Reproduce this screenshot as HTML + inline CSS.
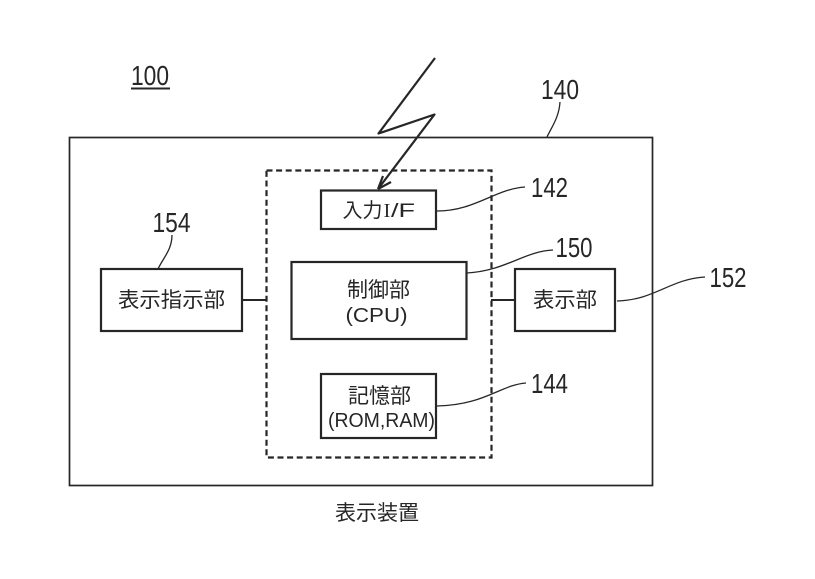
<!DOCTYPE html>
<html lang="ja"><head><meta charset="utf-8"><style>
html,body{margin:0;padding:0;background:#fff}
svg{display:block}
text{fill:#262626;font-family:"Liberation Sans","Noto Sans CJK JP",sans-serif}
.j{font-size:21px;text-anchor:middle}
.l{font-size:20px;text-anchor:middle}
.n{font-size:28px;text-anchor:middle}
</style></head><body>
<svg width="815" height="579" viewBox="0 0 815 579" xmlns="http://www.w3.org/2000/svg">
<g fill="none" stroke="#262626">
<rect x="69.500" y="137.500" width="583" height="348" stroke-width="1.700"/>
<rect x="266.500" y="170.500" width="225" height="287" stroke-width="2.200" stroke-dasharray="6 3.600"/>
<rect x="321" y="190.500" width="115" height="38.500" stroke-width="2.200" fill="#fff"/>
<rect x="291.500" y="262" width="175" height="77" stroke-width="2.200"/>
<rect x="321" y="374" width="115" height="64" stroke-width="2.200"/>
<rect x="101" y="269" width="141" height="62" stroke-width="2.200"/>
<rect x="515" y="269" width="100" height="62" stroke-width="2.200"/>
<path d="M242 300H266M491 300H515" stroke-width="2"/>
<path d="M435 58L378.500 133.500L434.500 114.500L378 189" stroke-width="2.200" stroke-linejoin="round"/>
<path d="M378 189L383 176M378 189L391 182" stroke-width="2.200"/>
<path d="M547 137C551 128 559 118 560 102" stroke-width="1.300"/>
<path d="M437 211C475 211 495 189 525 187" stroke-width="1.300"/>
<path d="M467 273C505 271 525 251 553 250" stroke-width="1.300"/>
<path d="M437 406C485 405 500 385 526 383" stroke-width="1.300"/>
<path d="M617 301C655 300 670 279 705 277" stroke-width="1.300"/>
<path d="M158 269C163 258 172 250 172 235" stroke-width="1.300"/>
<path d="M131 88.500H170" stroke-width="2"/>
</g>
<text class="n" x="150" y="85" textLength="38" lengthAdjust="spacingAndGlyphs">100</text>
<text class="n" x="560" y="99" textLength="38" lengthAdjust="spacingAndGlyphs">140</text>
<text class="n" x="549.500" y="197" textLength="37" lengthAdjust="spacingAndGlyphs">142</text>
<text class="n" x="574" y="257" textLength="37" lengthAdjust="spacingAndGlyphs">150</text>
<text class="n" x="549.500" y="393" textLength="37" lengthAdjust="spacingAndGlyphs">144</text>
<text class="n" x="728" y="287" textLength="37" lengthAdjust="spacingAndGlyphs">152</text>
<text class="n" x="171.500" y="232" textLength="38" lengthAdjust="spacingAndGlyphs">154</text>
<text class="l" x="362.500" y="217" textLength="40" lengthAdjust="spacingAndGlyphs">入力</text>
<text x="387" y="217" style="font-family:'Liberation Serif',serif;font-size:20px;text-anchor:middle">I</text>
<text x="403" y="217" style="font-size:19px;text-anchor:middle" textLength="24" lengthAdjust="spacingAndGlyphs">/F</text>
<text class="j" x="378.500" y="297" textLength="63" lengthAdjust="spacingAndGlyphs">制御部</text>
<text class="l" x="376.500" y="322" textLength="62" lengthAdjust="spacingAndGlyphs">(CPU)</text>
<text class="j" x="379.500" y="403" textLength="63" lengthAdjust="spacingAndGlyphs">記憶部</text>
<text class="l" x="381.500" y="427" textLength="107" lengthAdjust="spacingAndGlyphs">(ROM,RAM)</text>
<text class="j" x="171.500" y="307" textLength="107" lengthAdjust="spacingAndGlyphs">表示指示部</text>
<text class="j" x="565" y="307" textLength="64" lengthAdjust="spacingAndGlyphs">表示部</text>
<text class="j" x="377" y="520" textLength="84" lengthAdjust="spacingAndGlyphs">表示装置</text>
</svg>
</body></html>
